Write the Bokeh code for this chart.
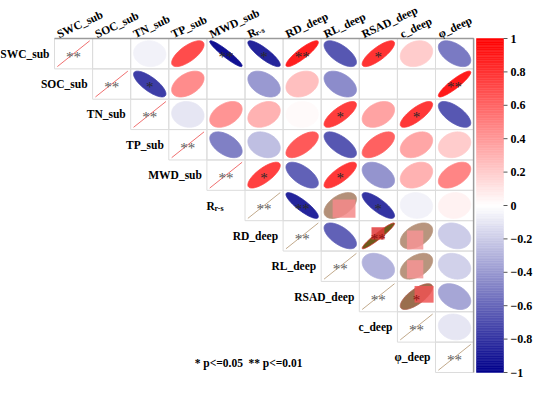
import numpy as np
from bokeh.plotting import figure
from bokeh.models import Range1d
from bokeh.embed import file_html
from bokeh.resources import INLINE
from bokeh.core.properties import value

# ---------------- data ----------------
labels = ["SWC_sub", "SOC_sub", "TN_sub", "TP_sub", "MWD_sub", "R",
          "RD_deep", "RL_deep", "RSAD_deep", "c_deep", "φ_deep"]
rs_sub = "r-s"   # subscript of the 6th variable (R r-s)

# upper triangle correlations, row i lists columns i..10
corr_rows = [
    [1, 0.00, -0.05, 0.70, -0.94, -0.86, 0.88, -0.66, 0.80, 0.20, -0.52],
    [1, -0.76, 0.45, 0.00, -0.40, 0.25, -0.45, 0.00, 0.00, 0.90],
    [1, -0.10, 0.42, 0.30, 0.02, 0.76, 0.36, 0.78, -0.66],
    [1, -0.50, -0.25, 0.65, -0.66, 0.62, 0.35, 0.20],
    [1, 0.75, -0.62, 0.78, -0.42, 0.30, 0.48],
    [1, -0.86, 0.50, -0.80, -0.05, 0.05],
    [1, -0.62, 0.95, 0.45, -0.20],
    [1, -0.30, 0.45, -0.18],
    [1, 0.72, -0.35],
    [1, -0.10],
    [1],
]
# significance marks (row, col, mark); diagonal cells all "**"
sig_rows = [0, 0, 0, 0, 1, 1, 2, 2, 4, 4, 5, 5, 6, 8]
sig_cols = [4, 5, 6, 8, 2, 10, 7, 9, 5, 7, 6, 8, 8, 9]
sig_marks = ["**", "*", "**", "*", "*", "**", "*", "*", "*", "*", "**", "*", "**", "*"]

cbar_ticks = [1, 0.8, 0.6, 0.4, 0.2, 0, -0.2, -0.4, -0.6, -0.8, -1]
cbar_tick_labels = ["1", "0.8", "0.6", "0.4", "0.2", "0", "\u22120.2", "\u22120.4",
                    "\u22120.6", "\u22120.8", "\u22121"]
legend_texts = ["* p<=0.05", "** p<=0.01"]

# tinted (discoloured) cells in the reference
tint_rows = [5, 6, 6, 7, 8]
tint_cols = [7, 8, 9, 9, 9]
tint_ell = ["#b39079", "#6e5a1a", "#b8957e", "#b8957e", "#9a6e4e"]
tint_line = ["#b39079", "#d83030", "#b8957e", "#b8957e", "#b06050"]
tint_sq = ["#f58a8a", "#e03a3a", "#f49494", "#f49494", "#ee5555"]
tint_box = [(0.30, 0.90, 0.10, 0.70), (0.32, 0.66, 0.38, 0.78), (0.25, 0.68, 0.05, 0.68),
            (0.25, 0.68, 0.10, 0.70), (0.45, 0.95, 0.30, 0.85)]

# ---------------- helpers ----------------
N = len(labels)
LOW = np.array([0x00, 0x00, 0x8B])
MID = np.array([0xFF, 0xFF, 0xFF])
HIGH = np.array([0xFF, 0x00, 0x00])


def col_of(v):
    if v >= 0:
        c = MID + (HIGH - MID) * v
    else:
        c = MID + (LOW - MID) * (-v)
    c = np.clip(np.round(c), 0, 255).astype(int)
    return "#%02x%02x%02x" % tuple(c)


def ell(r, cx, cy):
    k = np.linspace(0, 2 * np.pi, 99)
    d = np.arccos(np.clip(r, -1, 1))
    return (cx + 0.85 * np.cos(k + d / 2) / 2).tolist(), (cy + 0.85 * np.cos(k - d / 2) / 2).tolist()


def cx_of(j):
    return j + 0.5


def cy_of(i):
    return N - i - 0.5


# ---------------- figure ----------------
W, H = 534, 378
GL = 54.0
CW = 38.1
x0 = -GL / CW
x1 = (W - GL) / CW
ytop = 38.0
ybot = 372.0
RH = (ybot - ytop) / N
y1 = N + ytop / RH
y0 = -(H - ybot) / RH

p = figure(width=W, height=H, x_range=Range1d(x0, x1), y_range=Range1d(y0, y1),
           output_backend="svg", toolbar_location=None, min_border=0)
p.axis.visible = False
p.grid.visible = False
p.outline_line_color = None
p.background_fill_color = "white"
p.border_fill_color = "white"

FONT = value("Liberation Serif")

# cell borders
bx, by = [], []
for i in range(N):
    for j in range(i, N):
        bx.append(cx_of(j))
        by.append(cy_of(i))
p.rect(x=bx, y=by, width=1, height=1, fill_color=None, line_color="#dcdcdc", line_width=1)
# outer border (top + right)
p.line(x=[0, N, N], y=[N, N, 0], line_color="#9a9a9a", line_width=1.5)

# ellipses
exs, eys, fills = [], [], []
dxs, dys, dcols = [], [], []
tint_map = {(r, c): k for k, (r, c) in enumerate(zip(tint_rows, tint_cols))}
for i, row in enumerate(corr_rows):
    for off, r in enumerate(row):
        j = i + off
        cx, cy = cx_of(j), cy_of(i)
        xs, ys = ell(r, cx, cy)
        if j == i:
            dxs.append([xs[0], xs[49]])
            dys.append([ys[0], ys[49]])
            dcols.append("#f07070" if i < 5 else "#c2aa8c")
            continue
        if (i, j) in tint_map:
            continue
        exs.append(xs)
        eys.append(ys)
        fills.append(col_of(r))
p.patches(xs=exs, ys=eys, fill_color=fills, line_color=fills, line_width=0.8)
p.multi_line(xs=dxs, ys=dys, line_color=dcols, line_width=1)

# tinted cells
for k, (i, j) in enumerate(zip(tint_rows, tint_cols)):
    r = corr_rows[i][j - i]
    xs, ys = ell(r, cx_of(j), cy_of(i))
    p.patch(xs, ys, fill_color=tint_ell[k], line_color=tint_line[k], line_width=0.8)
    a, b, c, d = tint_box[k]
    p.quad(left=[j + a], right=[j + b], bottom=[N - i - 1 + c], top=[N - i - 1 + d],
           fill_color=tint_sq[k], line_color=None, fill_alpha=0.85)

# significance stars
stx = [cx_of(j) for j in sig_cols]
sty = [cy_of(i) for i in sig_rows]
stc = ["#8b1010" if (i, j) in tint_map else "#2a2a2a" for i, j in zip(sig_rows, sig_cols)]
p.text(x=stx, y=sty, text=sig_marks, text_font=FONT, text_font_size="15px",
       text_align="center", text_baseline="middle", text_color=stc, y_offset=3)
p.text(x=[cx_of(i) for i in range(N)], y=[cy_of(i) for i in range(N)], text=["**"] * N,
       text_font=FONT, text_font_size="15px", text_align="center", text_baseline="middle",
       text_color="#606060", y_offset=3)

# row labels
rl_idx = [i for i in range(N) if i != 5]
p.text(x=[i - 5 / CW for i in rl_idx], y=[cy_of(i) for i in rl_idx],
       text=[labels[i] for i in rl_idx], text_font=FONT, text_font_style="bold",
       text_font_size="11.5px", text_align="right", text_baseline="middle", text_color="black")
p.text(x=[5 - 38.4 / CW], y=[cy_of(5)], text=[labels[5]], text_font=FONT, text_font_style="bold",
       text_font_size="11.5px", text_align="left", text_baseline="middle", text_color="black")
p.text(x=[5 - 38.4 / CW], y=[cy_of(5)], text=[rs_sub], text_font=FONT, text_font_style="bold",
       text_font_size="8px", text_align="left", text_baseline="middle", text_color="black",
       x_offset=8, y_offset=3)

# column labels (rotated)
ANG = 25
lab_y = N + 4 / RH
p.text(x=[cx_of(j) - 16 / CW for j in range(N)], y=[lab_y] * N,
       text=labels, text_font=FONT, text_font_style="bold", text_font_size="11.5px",
       text_align="left", text_baseline="alphabetic", angle=ANG, angle_units="deg",
       text_color="black")
p.text(x=[cx_of(5) - 16 / CW], y=[lab_y], text=[rs_sub], text_font=FONT,
       text_font_style="bold", text_font_size="8px", text_align="left",
       text_baseline="alphabetic", angle=ANG, angle_units="deg", text_color="black",
       x_offset=8, y_offset=-1)

# colour bar
nb = 200
vals = np.linspace(-1, 1, nb + 1)
cb_l = (476 - GL) / CW
cb_r = (503 - GL) / CW
bottoms = [(v + 1) / 2 * N for v in vals[:-1]]
tops = [(v + 1) / 2 * N for v in vals[1:]]
cb_cols = [col_of((a + b) / 2) for a, b in zip(vals[:-1], vals[1:])]
p.quad(left=cb_l, right=cb_r, bottom=bottoms, top=tops, fill_color=cb_cols, line_color=cb_cols,
       line_width=0.5)
ty = [(t + 1) / 2 * N for t in cbar_ticks]
p.segment(x0=[cb_r] * len(ty), y0=ty, x1=[(507 - GL) / CW] * len(ty), y1=ty,
          line_color="#555555", line_width=1)
p.text(x=[(510 - GL) / CW] * len(ty), y=ty, text=cbar_tick_labels, text_font=FONT,
       text_font_style="bold", text_font_size="12px", text_align="left", text_baseline="middle",
       text_color="black")

# legend
p.text(x=[3.68, 5.09], y=[0.30, 0.30], text=legend_texts, text_font=FONT, text_font_style="bold",
       text_font_size="11.5px", text_align="left", text_baseline="middle", text_color="black")

open("out.html", "w").write(file_html(p, INLINE))
